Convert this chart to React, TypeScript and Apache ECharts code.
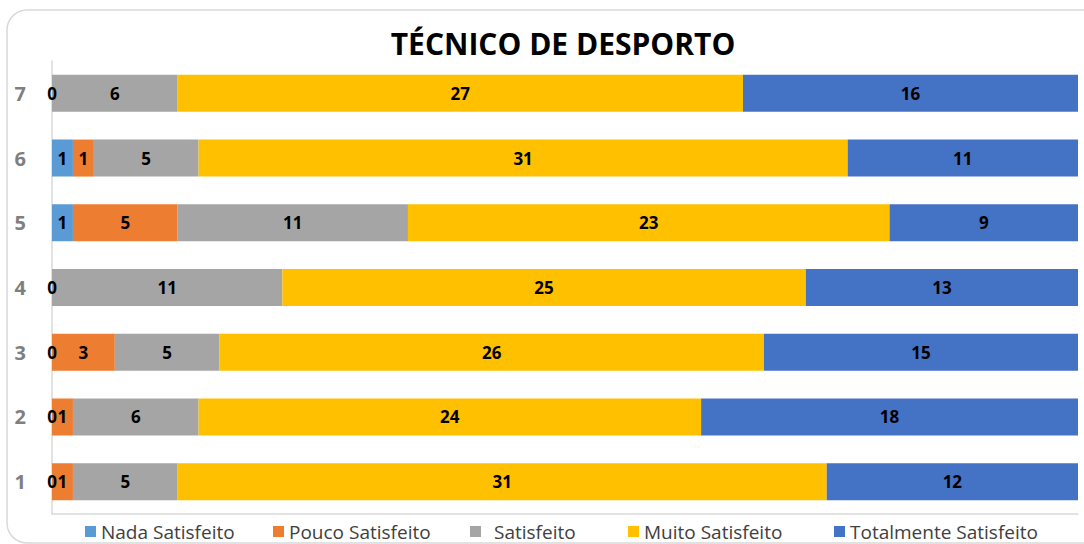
import React, { useEffect, useRef } from "react";
import * as echarts from "echarts";

const categories = ["1", "2", "3", "4", "5", "6", "7"];
const seriesNames = [
  "Nada Satisfeito",
  "Pouco Satisfeito",
  "Satisfeito",
  "Muito Satisfeito",
  "Totalmente Satisfeito",
];
const nadaSatisfeito = [0, 0, 0, 0, 1, 1, 0];
const poucoSatisfeito = [1, 1, 3, null, 5, 1, null];
const satisfeito = [5, 6, 5, 11, 11, 5, 6];
const muitoSatisfeito = [31, 24, 26, 25, 23, 31, 27];
const totalmenteSatisfeito = [12, 18, 15, 13, 9, 11, 16];
const colors = ["#5B9BD5", "#ED7D31", "#A5A5A5", "#FFC000", "#4472C4"];
const title = "TÉCNICO DE DESPORTO";
const legendLefts = [80, 268, 465, 623, 829];

export default function App() {
  const ref = useRef<HTMLDivElement>(null);
  useEffect(() => {
    if (!ref.current) return;
    const chart = echarts.init(ref.current, undefined, { renderer: "svg" });
    const dataSets = [nadaSatisfeito, poucoSatisfeito, satisfeito, muitoSatisfeito, totalmenteSatisfeito];
    const font = "'Open Sans', 'Noto Sans', sans-serif";
    chart.setOption({
      animation: false,
      backgroundColor: "#ffffff",
      color: colors,
      title: {
        text: title,
        left: 558,
        textAlign: "center",
        top: 23,
        textStyle: { fontFamily: font, fontSize: 30, fontWeight: "bold", color: "#000000" },
      },
      graphic: [
        {
          type: "rect",
          shape: { x: 7, y: 10, width: 1095, height: 533, r: 20 },
          style: { fill: "none", stroke: "#d9d9d9", lineWidth: 1.5 },
          silent: true,
          z: -1,
        },
      ],
      legend: seriesNames.map((name, i) => ({
        left: legendLefts[i],
        top: 517,
        itemWidth: 11,
        itemHeight: 11,
        itemGap: 8,
        icon: "rect",
        data: [name],
        textStyle: {
          fontFamily: font,
          fontSize: 19,
          color: "#404040",
          padding: [0, 0, 0, i === 2 ? 8 : 0],
        },
      })),
      grid: { left: 52, right: 6, top: 61, bottom: 30, containLabel: false },
      xAxis: {
        type: "value",
        min: 0,
        max: 49,
        axisLabel: { show: false },
        axisTick: { show: false },
        splitLine: { show: false },
        axisLine: { show: true, lineStyle: { color: "#d9d9d9", width: 1.5 } },
      },
      yAxis: {
        type: "category",
        data: categories,
        axisTick: { show: false },
        axisLine: { show: true, lineStyle: { color: "#d9d9d9", width: 1.5 } },
        axisLabel: {
          margin: 26,
          fontFamily: font,
          fontSize: 20,
          fontWeight: "bold",
          color: "#7f7f7f",
        },
      },
      series: seriesNames.map((name, i) => ({
        name,
        type: "bar",
        stack: "total",
        barWidth: 37,
        data: dataSets[i],
        itemStyle: { color: colors[i] },
        label: {
          show: true,
          position: "inside",
          fontFamily: font,
          fontSize: 17,
          fontWeight: "bold",
          color: "#000000",
        },
      })),
    });
    return () => chart.dispose();
  }, []);
  return (
    <div
      ref={ref}
      style={{ position: "fixed", left: 0, top: 0, width: 1084, height: 544 }}
    />
  );
}
